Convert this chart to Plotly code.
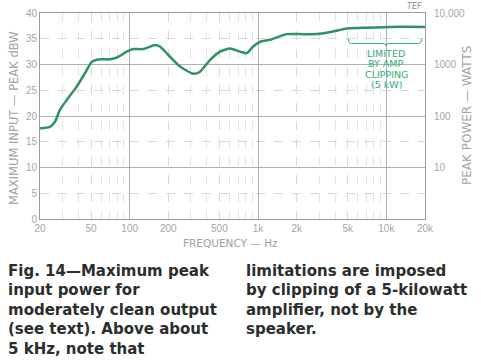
import math
import plotly.graph_objects as go

# ---- data ----
freq_hz = [20, 23.9, 26.2, 28.6, 32.3, 38.6, 44.8, 50.6, 58.7, 70.3, 81.5, 94.8,
           106.7, 127.7, 157.6, 172, 194, 247, 313, 353, 423, 506, 605, 724,
           817, 915, 1037, 1242, 1675, 2125, 2870, 3845, 4910, 6240, 10690, 20000]
peak_dbw = [17.6, 17.9, 18.9, 21.2, 23.1, 25.7, 28.3, 30.5, 31.0, 31.0, 31.5, 32.5,
            33.0, 33.0, 33.8, 33.5, 32.2, 29.6, 28.2, 28.6, 30.9, 32.5, 33.1, 32.5,
            32.2, 33.5, 34.4, 34.8, 35.9, 35.9, 35.9, 36.4, 37.0, 37.1, 37.3, 37.3]

x_tick_vals = [20, 50, 100, 200, 500, 1000, 2000, 5000, 10000, 20000]
x_tick_text = ["20", "50", "100", "200", "500", "1k", "2k", "5k", "10k", "20k"]
x_minor_vals = [30, 40, 60, 70, 80, 90, 300, 400, 600, 700, 800, 900,
                3000, 4000, 6000, 7000, 8000, 9000]
x_decades = [100, 1000, 10000]
y_tick_vals = [0, 5, 10, 15, 20, 25, 30, 35, 40]
watts_tick_vals = [10, 20, 30, 40]
watts_tick_text = ["10", "100", "1000", "10,000"]

caption_left = ["Fig. 14\u2014Maximum peak", "input power for",
                "moderately clean output", "(see text). Above about",
                "5 kHz, note that"]
caption_right = ["limitations are imposed", "by clipping of a 5-kilowatt",
                 "amplifier, not by the", "speaker."]
note_lines = ["LIMITED", "BY AMP", "CLIPPING", "(5 kW)"]

# ---- layout geometry (pixels, in reference-image coordinates) ----
W, H = 481, 361
L, R, T, B = 40, 425, 13, 219


def pp(x, y):
    """reference pixel -> paper coordinates"""
    return (x - L) / (R - L), (B - y) / (B - T)


GRID_LIGHT = "#d8d8d8"
GRID_MID = "#b0b0b0"
FRAME = "#9c9c9c"
TICK_FONT = dict(family="Liberation Sans", size=10, color="#a6a6a6")
GREEN = "#2e9262"
GREEN_TXT = "#31ad78"

fig = go.Figure()
fig.add_trace(go.Scatter(
    x=freq_hz, y=peak_dbw, mode="lines",
    line=dict(color=GREEN, width=2.5, shape="spline", smoothing=0.6),
    showlegend=False, hoverinfo="x+y"))
# helper trace for the overlay axes (right scale & decade grid)
fig.add_trace(go.Scatter(
    x=[freq_hz[0], freq_hz[-1]], y=[0, 40], xaxis="x2", yaxis="y2",
    mode="markers", marker=dict(opacity=0), showlegend=False, hoverinfo="skip"))

xr = [math.log10(20), math.log10(20000)]
fig.update_layout(
    width=W, height=H, autosize=False,
    margin=dict(l=L, r=W - R, t=T, b=H - B, pad=0),
    paper_bgcolor="white", plot_bgcolor="white",
    xaxis=dict(type="log", range=xr, tickmode="array", tickvals=x_tick_vals,
               ticktext=x_tick_text, tickfont=TICK_FONT, ticks="", automargin=False,
               ticklabeloverflow="allow",
               showgrid=True, gridcolor=GRID_LIGHT, griddash="dash", gridwidth=1,
               minor=dict(tickmode="array", tickvals=x_minor_vals, showgrid=True,
                          gridcolor="#e3e3e3", griddash="dash", ticks=""),
               showline=True, mirror=True, linecolor=FRAME, linewidth=1,
               zeroline=False),
    xaxis2=dict(type="log", range=xr, overlaying="x", anchor="y", side="bottom",
                tickmode="array", tickvals=x_decades, showticklabels=False,
                ticks="", showgrid=True, gridcolor=GRID_MID, gridwidth=1,
                showline=False, zeroline=False, automargin=False),
    yaxis=dict(range=[0, 40], tickmode="array", tickvals=y_tick_vals,
               tickfont=TICK_FONT, ticks="", showgrid=True, gridcolor=GRID_LIGHT,
               griddash="dash", showline=True, mirror=True, linecolor=FRAME,
               linewidth=1, zeroline=False, automargin=False,
               ticklabeloverflow="allow"),
    yaxis2=dict(range=[0, 40], overlaying="y", anchor="x", side="right",
                tickmode="array", tickvals=watts_tick_vals, ticktext=watts_tick_text,
                tickfont=TICK_FONT, ticks="outside", ticklen=6, tickcolor="rgba(0,0,0,0)",
                showgrid=True, gridcolor=GRID_MID, automargin=False,
                ticklabeloverflow="allow", showline=False, zeroline=False),
)


def ann(text, x, y, size, color, family="DejaVu Sans", xanchor="center",
        yanchor="middle", angle=0, weight="normal"):
    px, py = pp(x, y)
    return dict(text=text, x=px, y=py, xref="paper", yref="paper", showarrow=False,
                xanchor=xanchor, yanchor=yanchor, textangle=angle,
                font=dict(family=family, size=size, color=color, weight=weight))


anns = []
anns.append(ann("FREQUENCY \u2014 Hz", 230, 243, 10.5, "#a0a0a0"))
anns.append(ann("MAXIMUM INPUT \u2014 PEAK dBW", 14, 118, 11.5, "#a4a4a4", angle=-90))
anns.append(ann("PEAK POWER \u2014 WATTS", 467, 116, 12, "#a4a4a4", angle=-90))
anns.append(ann("<i>TEF</i>", 414, 6, 8, "#8a8a8a"))
for txt, yy in zip(note_lines, [53.5, 63.5, 74, 84.5]):
    anns.append(ann(txt, 386, yy, 9.5, GREEN_TXT))
centers = [270.5, 290, 309.5, 329, 348.5]
for txt, yy in zip(caption_left, centers):
    anns.append(ann(txt, 6, yy, 15, "#2a2e2d", xanchor="left", weight="bold"))
for txt, yy in zip(caption_right, centers):
    anns.append(ann(txt, 244, yy, 15, "#2a2e2d", xanchor="left", weight="bold"))
fig.update_layout(annotations=anns)

# bracket over the "limited" region
x1, yt = pp(348.5, 39)
xc, yb = pp(386, 43.5)
x2, _ = pp(421.5, 39)
_, yp = pp(0, 46)
dx = 3 / (R - L)
path = (f"M {x1},{yt} Q {x1},{yb} {x1+dx},{yb} L {xc-dx},{yb} "
        f"Q {xc},{yb} {xc},{yp} Q {xc},{yb} {xc+dx},{yb} L {x2-dx},{yb} "
        f"Q {x2},{yb} {x2},{yt}")
fig.update_layout(shapes=[dict(type="path", path=path, xref="paper", yref="paper",
                               line=dict(color=GREEN_TXT, width=1))])

fig.write_html("out.html", config={"displayModeBar": False},
               post_script="document.body.style.margin='0';"
                           "document.body.style.overflow='hidden';")
